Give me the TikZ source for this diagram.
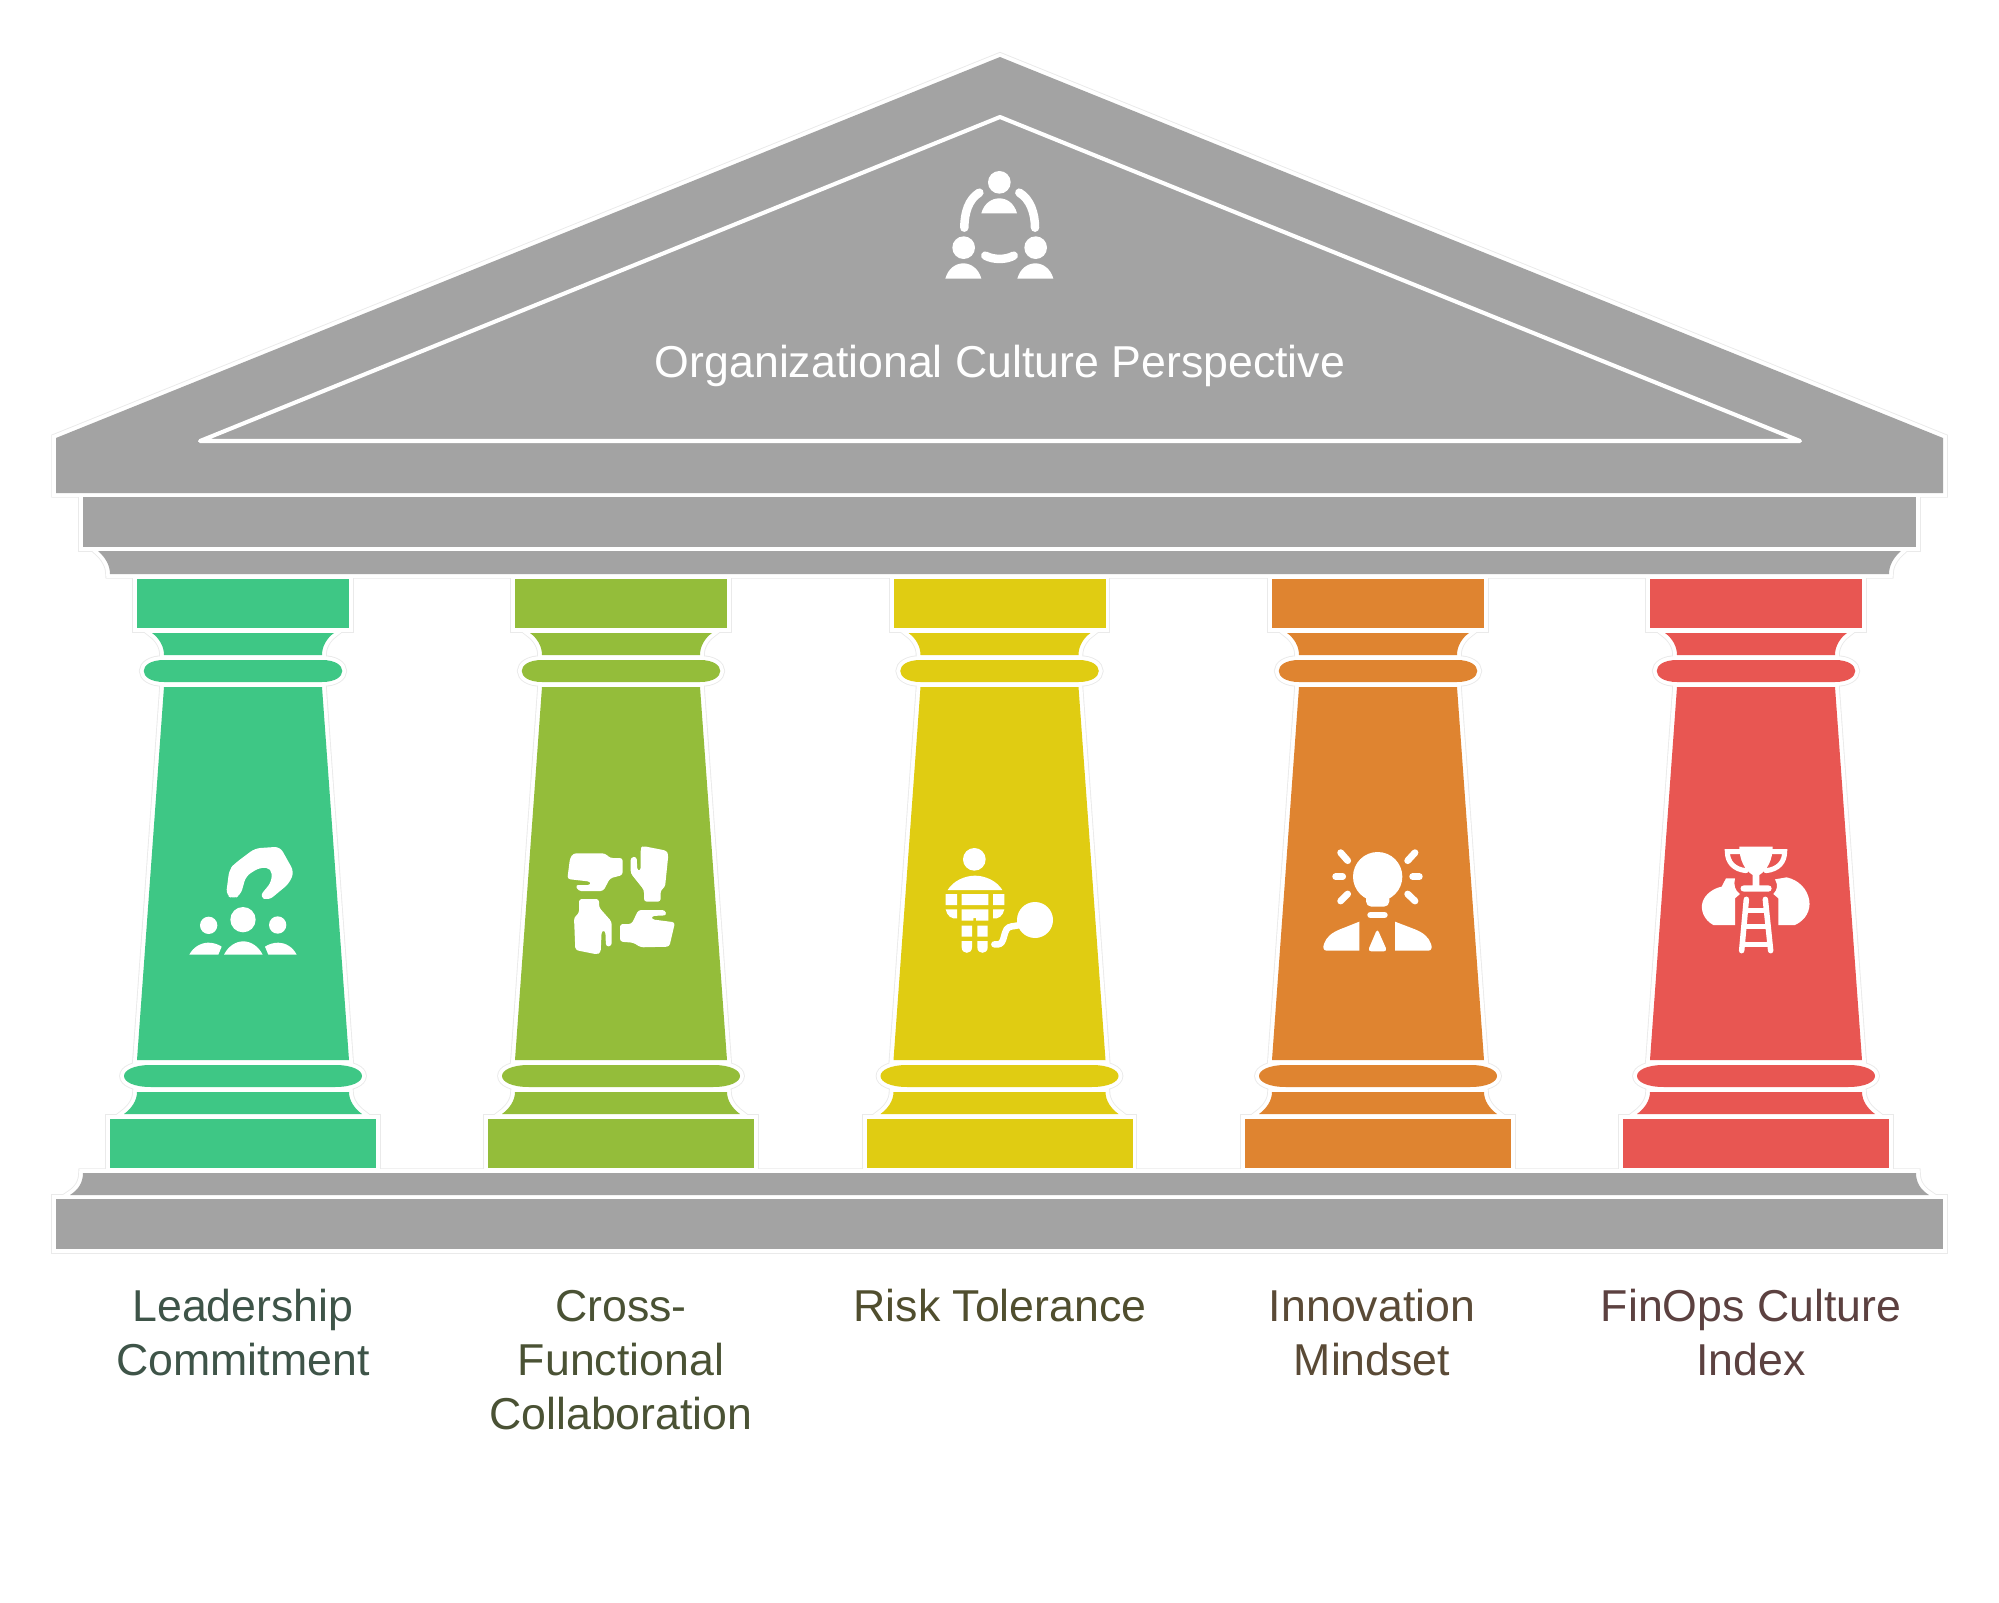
\documentclass[tikz,border=0pt]{standalone}
\usepackage{fontspec}
\setmainfont{Liberation Sans}
\definecolor{templegrey}{HTML}{A3A3A3}
\definecolor{edgegrey}{HTML}{EAEAEA}
\definecolor{pillargreen}{HTML}{3EC785}
\definecolor{pillarolive}{HTML}{94BD3A}
\definecolor{pillaryellow}{HTML}{E0CC12}
\definecolor{pillarorange}{HTML}{DF8430}
\definecolor{pillarred}{HTML}{E85652}
\definecolor{textgreen}{HTML}{3E5448}
\definecolor{textolive}{HTML}{4A5234}
\definecolor{textyellow}{HTML}{504E2E}
\definecolor{textorange}{HTML}{5A4A36}
\definecolor{textred}{HTML}{5C4140}

% all parts of the temple, #1 = style of the pass
\newcommand{\templeparts}[1]{
    \path[#1,fill=templegrey] (56,493) -- (56,438) -- (1000,57) -- (1943,438) -- (1943,493) -- cycle;
    \path[#1,fill=templegrey] (83,497) rectangle (1916,547);
    \path[#1,fill=templegrey] (98,551) .. controls (105,557) and (110,565) .. (110,574) -- (1889,574) .. controls (1889,565) and (1894,557) .. (1901,551) -- cycle;
    \path[#1,fill=templegrey] (83,1173) .. controls (83,1183) and (78,1190) .. (70,1195) -- (1929,1195) .. controls (1921,1190) and (1916,1183) .. (1916,1173) -- cycle;
    \path[#1,fill=templegrey] (56,1199) rectangle (1943,1249);
    \foreach \cx/\cc in {243/pillargreen,621/pillarolive,999.5/pillaryellow,1378/pillarorange,1756/pillarred}{
        \begin{scope}[shift={(\cx,0)}]
            \path[#1,fill=\cc] (-106,579) rectangle (106,628);
            \path[#1,fill=\cc] (-91,633) .. controls (-84,638) and (-79,646) .. (-79,655) -- (79,655) .. controls (79,646) and (84,638) .. (91,633) -- cycle;
            \path[#1,fill=\cc] (-79,660) -- (79,660) .. controls (106,660) and (106,682) .. (79,682) -- (-79,682) .. controls (-106,682) and (-106,660) .. (-79,660) -- cycle;
            \path[#1,fill=\cc] (-79,687) -- (79,687) -- (106,1060) -- (-106,1060) -- cycle;
            \path[#1,fill=\cc] (-92,1065) -- (92,1065) .. controls (128,1065) and (128,1087) .. (92,1087) -- (-92,1087) .. controls (-128,1087) and (-128,1065) .. (-92,1065) -- cycle;
            \path[#1,fill=\cc] (-106,1092) .. controls (-106,1101) and (-112,1109) .. (-119,1114) -- (119,1114) .. controls (112,1109) and (106,1101) .. (106,1092) -- cycle;
            \path[#1,fill=\cc] (-133,1119) rectangle (133,1168);
        \end{scope}
    }
}

\begin{document}
\begin{tikzpicture}[x=0.01cm,y=-0.01cm]
    \tikzset{edgepass/.style={draw=edgegrey,line width=2.7pt,fill opacity=0,line join=miter}}
    \tikzset{whitepass/.style={draw=white,line width=2.2pt,fill opacity=0,line join=miter}}
    \tikzset{fillpass/.style={}}
    \tikzset{iconfill/.style={fill=white,draw=none}}
    \tikzset{iconline/.style={draw=white,line width=#1,line cap=round,fill=none}}
    \tikzset{title/.style={text=white,font=\fontsize{12.7}{15.4}\selectfont,inner sep=0pt}}
    \tikzset{label/.style={align=center,anchor=north,font=\fontsize{12.7}{15.4}\selectfont,inner sep=0pt}}

    \useasboundingbox (0,0) rectangle (1999,1603);
    \fill[white] (0,0) rectangle (1999,1603);

    \templeparts{edgepass}
    \templeparts{whitepass}
    \templeparts{fillpass}

    % line inside the roof
    \draw[white,line width=1.15pt,line join=round,line cap=round] (200,441) -- (1000,117) -- (1800,441) -- cycle;

    \node[title] (roofname) at (1000,366) {Organizational Culture Perspective};

    \node[label,text=textgreen] (leadership) at (243,1283) {\strut Leadership\\Commitment};
    \node[label,text=textolive] (crossfunc) at (621,1283) {\strut Cross-\\Functional\\Collaboration};
    \node[label,text=textyellow] (risk) at (1000,1283) {\strut Risk Tolerance};
    \node[label,text=textorange] (innovation) at (1372,1283) {\strut Innovation\\Mindset};
    \node[label,text=textred] (finops) at (1751,1283) {\strut FinOps Culture\\Index};

    % roof icon
    \begin{scope}[shift={(880,140)},scale=1/3]
        \fill[iconfill] (358,127) circle (34) (251,323) circle (34) (467,323) circle (34);
        \fill[iconfill] (304,220) .. controls (312,190) and (335,175) .. (358,175) .. controls (381,175) and (403,190) .. (411,220) -- cycle;
        \fill[iconfill] (196,416) .. controls (204,386) and (227,370) .. (250,370) .. controls (273,370) and (296,386) .. (304,416) -- cycle;
        \fill[iconfill] (412,416) .. controls (420,386) and (443,370) .. (466,370) .. controls (489,370) and (512,386) .. (520,416) -- cycle;
        \draw[iconline=0.85mm] (298,158) .. controls (265,178) and (253,220) .. (253,263);
        \draw[iconline=0.85mm] (418,158) .. controls (451,178) and (465,220) .. (465,263);
        \draw[iconline=0.85mm] (316,347) .. controls (340,360) and (378,360) .. (401,347);
    \end{scope}

    % leadership icon
    \begin{scope}[shift={(170,830)},scale=1/3]
        \fill[iconfill,rounded corners=1.6pt] (168,195) -- (178,118) -- (195,100) -- (255,55) -- (330,50) -- (372,125) -- (358,160) -- (295,212) -- (268,200) -- (305,155) -- (305,115) -- (270,112) -- (228,138) -- (212,195) -- (190,207) -- cycle;
        \fill[iconfill] (219,269) circle (38) (116,286) circle (26) (323,285) circle (26);
        \fill[iconfill] (162,374) .. controls (175,348) and (198,334) .. (220,334) .. controls (242,334) and (265,348) .. (278,374) -- cycle;
        \fill[iconfill] (58,374) .. controls (70,350) and (95,338) .. (115,338) .. controls (130,338) and (145,343) .. (155,350) -- (145,374) -- cycle;
        \fill[iconfill] (380,374) .. controls (368,350) and (345,338) .. (325,338) .. controls (310,338) and (295,343) .. (285,350) -- (295,374) -- cycle;
    \end{scope}

    % collaboration icon
    \begin{scope}[shift={(550,830)},scale=1/3,rounded corners=0.8pt]
        \fill[iconfill] (70,70) -- (165,70) -- (180,84) -- (218,84) -- (218,135) -- (180,145) -- (160,183) -- (85,183) -- (76,165) -- (122,165) -- (122,155) -- (52,147) -- (60,85) -- cycle;
        \fill[iconfill] (278,48) -- (350,62) -- (355,75) -- (345,172) -- (332,180) -- (332,215) -- (282,215) -- (282,180) -- (242,130) -- (242,82) -- (260,80) -- (262,122) -- (272,122) -- (272,55) -- cycle;
        \fill[iconfill] (87,207) -- (147,207) -- (147,232) -- (185,275) -- (185,348) -- (168,350) -- (166,302) -- (155,302) -- (152,368) -- (140,373) -- (76,360) -- (72,262) -- (87,250) -- cycle;
        \fill[iconfill] (265,240) -- (345,240) -- (350,256) -- (305,258) -- (305,268) -- (375,277) -- (358,350) -- (272,352) -- (250,338) -- (210,335) -- (210,282) -- (245,282) -- cycle;
    \end{scope}

    % risk icon
    \begin{scope}[shift={(925,830)},scale=1/3]
        \fill[iconfill] (148,88) circle (34) (330,270) circle (54);
        \fill[iconfill] (68,180) .. controls (85,152) and (120,137) .. (150,137) .. controls (180,137) and (215,152) .. (232,180) -- cycle;
        \fill[iconfill] (62,192) rectangle (96,225) (110,192) rectangle (190,225) (204,192) rectangle (238,225);
        \fill[iconfill] (62,238) -- (96,238) -- (96,265) .. controls (80,268) and (66,258) .. (62,238) -- cycle;
        \fill[iconfill] (204,238) -- (238,238) .. controls (234,258) and (220,268) .. (204,265) -- cycle;
        \fill[iconfill] (110,238) -- (190,238) -- (190,272) -- (153,272) -- (153,264) -- (145,264) -- (145,272) -- (110,272) -- cycle;
        \fill[iconfill] (110,287) rectangle (141,320) (157,287) rectangle (188,320);
        \fill[iconfill] (110,333) -- (141,333) -- (141,352) .. controls (141,374) and (110,374) .. (110,352) -- cycle;
        \fill[iconfill] (157,333) -- (188,333) -- (188,352) .. controls (188,374) and (157,374) .. (157,352) -- cycle;
        \draw[iconline=0.65mm] (208,343) .. controls (240,348) and (232,320) .. (245,298) .. controls (252,287) and (265,290) .. (285,285);
    \end{scope}

    % innovation icon
    \begin{scope}[shift={(1300,830)},scale=1/3]
        \fill[iconfill] (233,140) circle (74);
        \fill[iconfill,rounded corners=1.5pt] (198,190) -- (268,190) -- (268,230) -- (198,230) -- cycle;
        \foreach \xa/\ya/\xb/\yb in {122/68/143/92,107/140/128/140,122/213/143/192,345/68/323/92,358/140/338/140,345/213/323/192,212/255/253/255}{
            \draw[iconline=0.68mm] (\xa,\ya) -- (\xb,\yb);
        }
        \fill[iconfill] (178,275) -- (178,362) -- (80,362) .. controls (70,362) and (68,352) .. (72,342) .. controls (78,322) and (95,308) .. (120,298) -- cycle;
        \fill[iconfill] (285,275) -- (285,362) -- (385,362) .. controls (395,362) and (397,352) .. (393,342) .. controls (387,322) and (370,308) .. (345,298) -- cycle;
        \fill[iconfill,rounded corners=1pt] (232,296) -- (262,364) -- (203,364) -- cycle;
    \end{scope}

    % finops icon
    \begin{scope}[shift={(1680,830)},scale=1/3]
        \fill[iconfill] (178,50) -- (278,50) .. controls (278,90) and (262,120) .. (238,135) -- (238,166) -- (265,166) .. controls (278,166) and (278,185) .. (265,185) -- (192,185) .. controls (178,185) and (178,166) .. (192,166) -- (218,166) -- (218,135) .. controls (194,120) and (178,90) .. (178,50) -- cycle;
        \draw[iconline=0.5mm] (180,65) -- (142,65) .. controls (142,95) and (160,118) .. (198,122);
        \draw[iconline=0.5mm] (276,65) -- (314,65) .. controls (314,95) and (296,118) .. (258,122);
        \fill[iconfill] (165,285) -- (100,285) .. controls (72,270) and (60,240) .. (68,215) .. controls (76,192) and (100,175) .. (125,170) -- (138,145) -- (165,145) .. controls (160,165) and (165,182) .. (180,192) -- (165,205) -- cycle;
        \fill[iconfill] (295,285) -- (345,285) .. controls (378,270) and (392,240) .. (388,212) .. controls (382,175) and (355,150) .. (320,142) -- (285,148) .. controls (295,165) and (292,180) .. (280,192) -- (295,205) -- cycle;
        \draw[iconline=0.55mm] (199,208) -- (185,362);
        \draw[iconline=0.55mm] (256,208) -- (272,362);
        \draw[white,line width=0.5mm] (195,240) -- (260,240) (190,290) -- (265,290) (186,342) -- (270,342);
    \end{scope}
\end{tikzpicture}
\end{document}
